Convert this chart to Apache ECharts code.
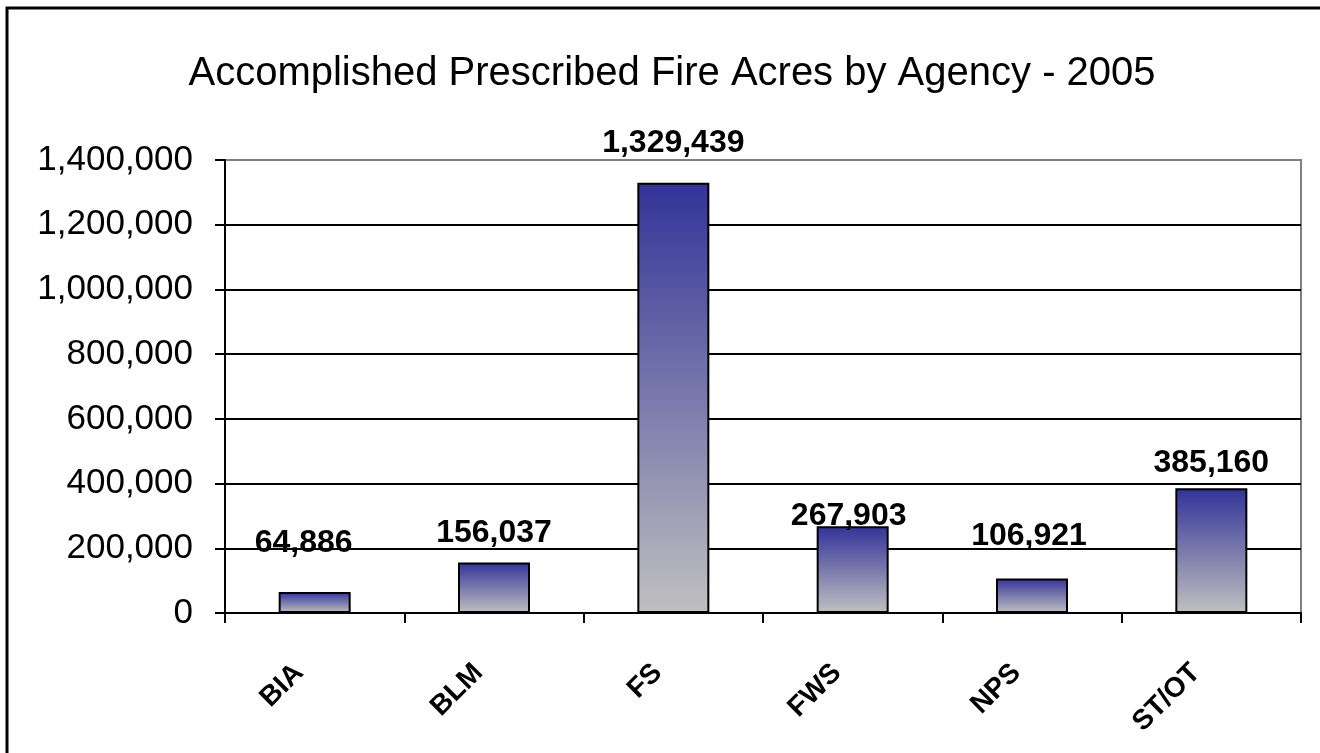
<!DOCTYPE html>
<html lang="en">

<head>
    <meta charset="UTF-8">
    <title>Accomplished Prescribed Fire Acres by Agency - 2005</title>
    <script src="https://cdn.jsdelivr.net/npm/echarts@6/dist/echarts.min.js"></script>
    <style>
        html, body { margin: 0; padding: 0; background: #fff; overflow: hidden; }
        #main { width: 1320px; height: 753px; }
    </style>
</head>

<body>
    <div id="main"></div>
    <script type="text/javascript">
        // chart data
        var agencies = ['BIA', 'BLM', 'FS', 'FWS', 'NPS', 'ST/OT'];
        var acres = [64886, 156037, 1329439, 267903, 106921, 385160];
        var yTicks = [0, 200000, 400000, 600000, 800000, 1000000, 1200000, 1400000];

        // value label placement, as in the original chart (px)
        var labelGap = [33, 13, 24, -6, 26, 9];
        var labelShift = [-11, 0, 0, -4, -3, 0];

        var font = 'Arial, "Liberation Sans", sans-serif';

        function fmt(v) {
            return v.toString().replace(/\B(?=(\d{3})+(?!\d))/g, ',');
        }

        var myChart = echarts.init(document.getElementById('main'));

        var option = {
            backgroundColor: '#ffffff',
            animation: false,
            title: {
                text: 'Accomplished Prescribed Fire Acres by Agency - 2005',
                left: 667,
                top: 49,
                textAlign: 'center',
                textStyle: {
                    fontFamily: font,
                    fontWeight: 'normal',
                    fontSize: 40,
                    color: '#000'
                }
            },
            // frame: only the top and left edges are inside the picture
            graphic: [{
                type: 'polyline',
                shape: { points: [[7, 800], [7, 8], [1400, 8]] },
                style: { fill: null, stroke: '#000', lineWidth: 3 },
                silent: true
            }],
            grid: {
                left: 225,
                right: 19,
                top: 160,
                bottom: 140,
                show: true,
                borderColor: '#808080',
                borderWidth: 2
            },
            xAxis: {
                type: 'category',
                data: agencies,
                boundaryGap: true,
                axisLine: { lineStyle: { color: '#000', width: 2 } },
                axisTick: { show: true, length: 10, lineStyle: { color: '#000', width: 2 } },
                axisLabel: {
                    rotate: 45,
                    margin: 40,
                    padding: [0, 22, 0, 0],
                    fontFamily: font,
                    fontWeight: 'bold',
                    fontSize: 28,
                    color: '#000'
                }
            },
            yAxis: {
                type: 'value',
                min: yTicks[0],
                max: yTicks[yTicks.length - 1],
                interval: yTicks[1] - yTicks[0],
                axisLine: { show: true, lineStyle: { color: '#000', width: 2 } },
                axisTick: { show: true, length: 10, lineStyle: { color: '#000', width: 2 } },
                axisLabel: {
                    margin: 32,
                    fontFamily: font,
                    fontSize: 35,
                    color: '#000',
                    formatter: function (v) { return fmt(v); }
                },
                splitLine: {
                    show: true,
                    lineStyle: {
                        color: ['#000', '#000', '#000', '#000', '#000', '#000', '#000', '#808080'],
                        width: 2
                    }
                }
            },
            series: [{
                name: 'Acres',
                type: 'bar',
                barWidth: 72,
                data: acres.map(function (v, i) {
                    return {
                        value: v,
                        label: { distance: labelGap[i], offset: [labelShift[i], 0] }
                    };
                }),
                itemStyle: {
                    borderColor: '#000',
                    borderWidth: 2,
                    color: new echarts.graphic.LinearGradient(0, 0, 0, 1, [
                        { offset: 0, color: '#333399' },
                        { offset: 1, color: '#c0c0c0' }
                    ])
                },
                label: {
                    show: true,
                    position: 'top',
                    fontFamily: font,
                    fontWeight: 'bold',
                    fontSize: 32,
                    color: '#000',
                    formatter: function (p) { return fmt(p.value); }
                }
            }]
        };

        myChart.setOption(option);
    </script>
</body>

</html>
